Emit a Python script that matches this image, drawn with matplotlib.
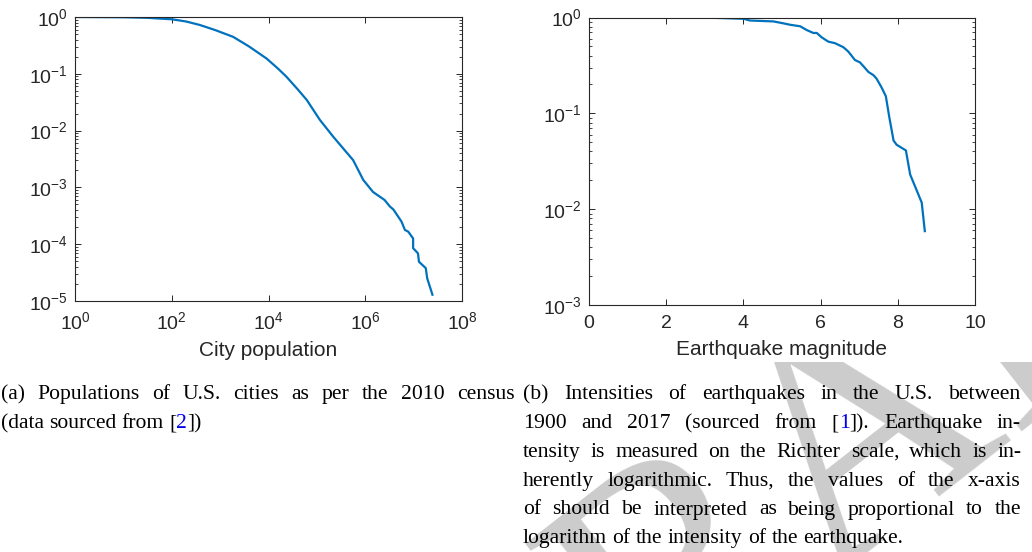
import re
import matplotlib
matplotlib.use("Agg")
import matplotlib.pyplot as plt
from matplotlib.patches import Rectangle
from matplotlib.font_manager import FontProperties
from matplotlib.ticker import FixedLocator, LogLocator, NullLocator, FuncFormatter, NullFormatter
import numpy as np

# ---------------- data ----------------
city_population = [1, 10, 32, 100, 200, 380, 790, 1860, 3980, 9100, 15800, 23400,
                   39800, 61700, 115000, 219000, 562000, 912000, 1450000, 2510000,
                   3240000, 3800000, 5620000, 6610000, 7760000, 9770000, 9770000,
                   12300000, 12900000, 17800000, 19100000, 24500000]
city_ccdf = [1.0, 0.99, 0.966, 0.912, 0.832, 0.724, 0.589, 0.447, 0.302, 0.186, 0.123,
             0.0891, 0.0537, 0.0347, 0.0155, 0.00776, 0.00302, 0.00135, 8.3e-4, 6.0e-4,
             4.6e-4, 4.1e-4, 2.5e-4, 1.78e-4, 1.66e-4, 1.26e-4, 8.5e-5, 6.9e-5, 4.9e-5,
             3.8e-5, 2.5e-5, 1.29e-5]

quake_magnitude = [1.61, 2.5, 3.3, 4.0, 4.17, 4.78, 5.03, 5.21, 5.47, 5.64, 5.81, 5.90,
                   6.03, 6.20, 6.37, 6.59, 6.72, 6.89, 7.02, 7.11, 7.24, 7.37, 7.45,
                   7.58, 7.69, 7.78, 7.89, 7.97, 8.21, 8.32, 8.62, 8.70]
quake_ccdf = [1.0, 0.995, 0.99, 0.97, 0.93, 0.91, 0.87, 0.84, 0.81, 0.74, 0.69, 0.69,
              0.62, 0.56, 0.54, 0.49, 0.44, 0.36, 0.34, 0.31, 0.27, 0.25, 0.23,
              0.186, 0.151, 0.091, 0.052, 0.047, 0.041, 0.023, 0.0117, 0.0059]

left_xticks = [1e0, 1e2, 1e4, 1e6, 1e8]
left_yticks = [1e-5, 1e-4, 1e-3, 1e-2, 1e-1, 1e0]
right_xticks = [0, 2, 4, 6, 8, 10]
right_yticks = [1e-3, 1e-2, 1e-1, 1e0]

left_xlabel = "City population"
right_xlabel = "Earthquake magnitude"

caption_a = ["(a) Populations of U.S. cities as per the 2010 census",
             "(data sourced from [{2}])"]
caption_b = ["(b) Intensities of earthquakes in the U.S. between",
             "1900 and 2017 (sourced from [{1}]). Earthquake in-",
             "tensity is measured on the Richter scale, which is in-",
             "herently logarithmic. Thus, the values of the x-axis",
             "of should be interpreted as being proportional to the",
             "logarithm of the intensity of the earthquake."]
watermark = "DRAFT"

# ---------------- style ----------------
plt.rcParams["font.family"] = ["Liberation Sans", "DejaVu Sans"]
plt.rcParams["mathtext.fontset"] = "custom"
plt.rcParams["mathtext.rm"] = "Liberation Sans"
plt.rcParams["mathtext.it"] = "Liberation Sans:italic"
plt.rcParams["mathtext.bf"] = "Liberation Sans:bold"
plt.rcParams["mathtext.default"] = "rm"

W, H = 1032, 552
fig = plt.figure(figsize=(W / 100, H / 100), dpi=100)
fig.patch.set_facecolor("white")

AX_COL = "#262626"
LINE_COL = "#0072BD"


def px_rect(x0, y0, x1, y1):
    return [x0 / W, 1 - y1 / H, (x1 - x0) / W, (y1 - y0) / H]


# watermark (behind everything), then the white background of the figure images
fig.text(462.5 / W, -308.8 / H, watermark, rotation=38, rotation_mode="anchor",
         ha="left", va="baseline", fontsize=330 * 72 / 100,
         family="Liberation Serif", color="0.8", zorder=-3)
fig.add_artist(Rectangle((0, 1 - 362 / H), 1, 362 / H, transform=fig.transFigure,
                         facecolor="white", edgecolor="none", zorder=-1))

ax1 = fig.add_axes(px_rect(75, 17, 462, 301))
ax2 = fig.add_axes(px_rect(589, 17.5, 975, 305))


def logfmt(v, pos):
    e = int(round(np.log10(v)))
    return r"$10^{%d}$" % e


for ax in (ax1, ax2):
    ax.set_facecolor("white")
    for s in ax.spines.values():
        s.set_color(AX_COL)
        s.set_linewidth(0.8)
    ax.tick_params(which="both", direction="in", top=True, right=True,
                   color=AX_COL, labelcolor=AX_COL, labelsize=14)
    ax.tick_params(which="major", length=4, width=0.7)
    ax.tick_params(which="minor", length=2.5, width=0.6)
    ax.tick_params(axis="x", which="major", pad=7)
    ax.tick_params(axis="y", which="major", pad=5)

# left plot
ax1.plot(city_population, city_ccdf, color=LINE_COL, lw=1.6)
ax1.set_xscale("log")
ax1.set_yscale("log")
ax1.set_xlim(1e0, 1e8)
ax1.set_ylim(1e-5, 1e0)
ax1.xaxis.set_major_locator(FixedLocator(left_xticks))
ax1.xaxis.set_minor_locator(NullLocator())
ax1.yaxis.set_major_locator(FixedLocator(left_yticks))
ax1.yaxis.set_minor_locator(LogLocator(base=10, subs=np.arange(2, 10), numticks=20))
ax1.xaxis.set_major_formatter(FuncFormatter(logfmt))
ax1.yaxis.set_major_formatter(FuncFormatter(logfmt))
ax1.yaxis.set_minor_formatter(NullFormatter())
ax1.set_xlabel(left_xlabel, fontsize=15, color=AX_COL, labelpad=6)

# right plot
ax2.plot(quake_magnitude, quake_ccdf, color=LINE_COL, lw=1.6)
ax2.set_yscale("log")
ax2.set_xlim(0, 10)
ax2.set_ylim(1e-3, 1e0)
ax2.xaxis.set_major_locator(FixedLocator(right_xticks))
ax2.xaxis.set_minor_locator(NullLocator())
ax2.yaxis.set_major_locator(FixedLocator(right_yticks))
ax2.yaxis.set_minor_locator(LogLocator(base=10, subs=np.arange(2, 10), numticks=20))
ax2.yaxis.set_major_formatter(FuncFormatter(logfmt))
ax2.yaxis.set_minor_formatter(NullFormatter())
ax2.set_xlabel(right_xlabel, fontsize=15, color=AX_COL, labelpad=6)

# ---------------- captions (justified like LaTeX) ----------------
fig.canvas.draw()
renderer = fig.canvas.get_renderer()


def plain(s):
    return s.replace("{", "").replace("}", "")


def tw(s, fp):
    if not s:
        return 0.0
    w, h, d = renderer.get_text_width_height_descent(s, fp, ismath=False)
    return w


def segments(word):
    out = []
    for part in re.split(r"(\{[^}]*\})", word):
        if not part:
            continue
        if part.startswith("{"):
            out.append((part[1:-1], "#0000EE"))
        else:
            out.append((part, "black"))
    return out


fp = FontProperties(family="Liberation Serif", size=15.6)
a_box = (0.5, 515)
b_box = (523, 1021)
baselines = [399, 428, 457, 486, 514.5, 543]


def draw_line(line, box, y_px, justify):
    words = line.split(" ")
    widths = [tw(plain(w), fp) for w in words]
    if justify and len(words) > 1:
        gap = (box[1] - box[0] - sum(widths)) / (len(words) - 1)
    else:
        gap = tw("a a", fp) - tw("aa", fp)
    x = box[0]
    for w, wd in zip(words, widths):
        prefix = ""
        for txt, col in segments(w):
            fig.text((x + tw(prefix, fp)) / W, 1 - y_px / H, txt, fontproperties=fp,
                     color=col, ha="left", va="baseline", zorder=2)
            prefix += txt
        x += wd + gap


for i, line in enumerate(caption_a):
    draw_line(line, a_box, baselines[i], justify=(i < len(caption_a) - 1))
for i, line in enumerate(caption_b):
    draw_line(line, b_box, baselines[i], justify=(i < len(caption_b) - 1))

fig.savefig("out.png", dpi=100, facecolor="white")
